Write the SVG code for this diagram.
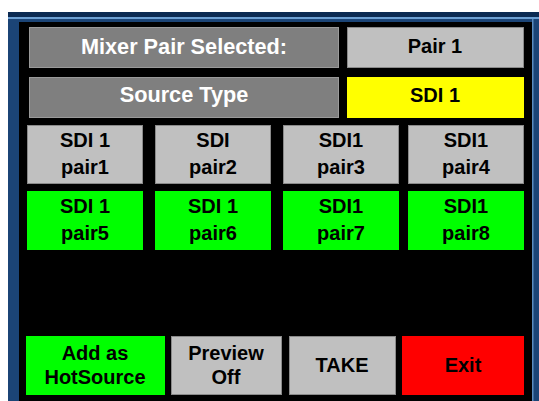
<svg xmlns="http://www.w3.org/2000/svg" width="539" height="401" viewBox="0 0 539 401">
<style>
.t{font-family:"Liberation Sans",Arial,sans-serif;font-weight:bold;font-size:20px;text-anchor:middle}
.big{font-size:21.7px}
.w{fill:#ffffff}
.k{fill:#000000}
.dg{fill:#7f7f7f;stroke:#9a9a9a;stroke-width:1}
.lg{fill:#c0c0c0;stroke:#8a8a8a;stroke-width:1}
.gr{fill:#00ff00}
.ye{fill:#ffff00}
.rd{fill:#ff0000}
</style>
<rect x="0" y="0" width="539" height="401" fill="#ffffff"/>
<rect x="8" y="12" width="531" height="389" fill="#1b4476"/>
<rect x="8" y="12" width="531" height="5" fill="#0b2a52"/>
<rect x="8" y="17" width="531" height="2" fill="#6c9fd2"/>
<rect x="532" y="19" width="1.5" height="382" fill="#5a8cc0"/>
<rect x="19" y="22" width="513" height="379" fill="#000000"/>
<g id="mixer-label"><rect class="dg" x="29.5" y="27.5" width="309" height="40"/><text class="t big w" x="184" y="53.5">Mixer Pair Selected:</text></g>
<g id="pair-value"><rect class="lg" x="347.5" y="27.5" width="176" height="40"/><text class="t k" x="435" y="53">Pair 1</text></g>
<g id="source-label"><rect class="dg" x="29.5" y="77.5" width="309" height="40"/><text class="t big w" x="184" y="102">Source Type</text></g>
<g id="source-value"><rect class="ye" x="347" y="77" width="177" height="41"/><text class="t k" x="435" y="102">SDI 1</text></g>
<g id="btn-pair1"><rect class="lg" x="27.5" y="125.5" width="115" height="58"/><text class="t k" x="85" y="147">SDI 1</text><text class="t k" x="85" y="174">pair1</text></g>
<g id="btn-pair2"><rect class="lg" x="155.5" y="125.5" width="115" height="58"/><text class="t k" x="213" y="147">SDI</text><text class="t k" x="213" y="174">pair2</text></g>
<g id="btn-pair3"><rect class="lg" x="283.5" y="125.5" width="115" height="58"/><text class="t k" x="341" y="147">SDI1</text><text class="t k" x="341" y="174">pair3</text></g>
<g id="btn-pair4"><rect class="lg" x="408.5" y="125.5" width="115" height="58"/><text class="t k" x="466" y="147">SDI1</text><text class="t k" x="466" y="174">pair4</text></g>
<g id="btn-pair5"><rect class="gr" x="27" y="191" width="116" height="59"/><text class="t k" x="85" y="213">SDI 1</text><text class="t k" x="85" y="240">pair5</text></g>
<g id="btn-pair6"><rect class="gr" x="155" y="191" width="116" height="59"/><text class="t k" x="213" y="213">SDI 1</text><text class="t k" x="213" y="240">pair6</text></g>
<g id="btn-pair7"><rect class="gr" x="283" y="191" width="116" height="59"/><text class="t k" x="341" y="213">SDI1</text><text class="t k" x="341" y="240">pair7</text></g>
<g id="btn-pair8"><rect class="gr" x="408" y="191" width="116" height="59"/><text class="t k" x="466" y="213">SDI1</text><text class="t k" x="466" y="240">pair8</text></g>
<g id="btn-hotsource"><rect class="gr" x="26" y="336" width="139" height="59"/><text class="t k" x="95" y="360">Add as</text><text class="t k" x="95" y="384">HotSource</text></g>
<g id="btn-preview"><rect class="lg" x="171.5" y="336.5" width="110" height="58"/><text class="t k" x="226" y="360">Preview</text><text class="t k" x="226" y="384">Off</text></g>
<g id="btn-take"><rect class="lg" x="289.5" y="336.5" width="106" height="58"/><text class="t k" x="342" y="372">TAKE</text></g>
<g id="btn-exit"><rect class="rd" x="402" y="336" width="122" height="59"/><text class="t k" x="463" y="372">Exit</text></g>
<g id="connectors"></g>
</svg>
